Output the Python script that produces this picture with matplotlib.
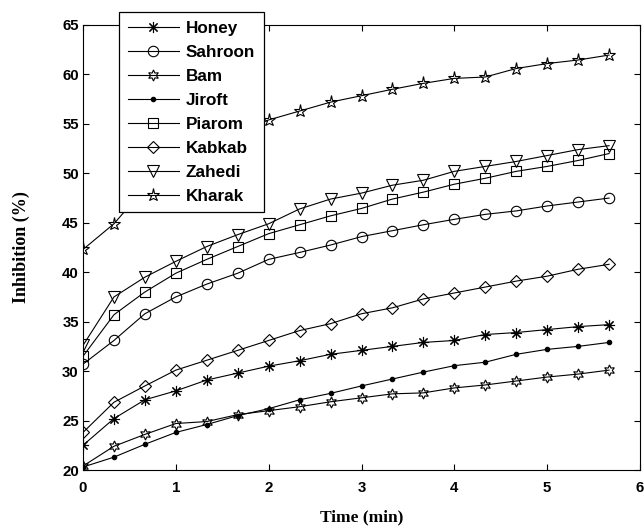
import matplotlib
matplotlib.use("Agg")
import matplotlib.pyplot as plt

time = [0, 1/3, 2/3, 1, 4/3, 5/3, 2, 7/3, 8/3, 3, 10/3, 11/3, 4, 13/3, 14/3, 5, 16/3, 17/3]

honey   = [22.5, 25.2, 27.1, 28.0, 29.1, 29.8, 30.5, 31.05, 31.7, 32.1, 32.5, 32.9, 33.1, 33.7, 33.9, 34.2, 34.5, 34.7]
sahroon = [30.7, 33.1, 35.8, 37.5, 38.8, 39.9, 41.3, 42.0, 42.75, 43.6, 44.2, 44.8, 45.35, 45.85, 46.2, 46.7, 47.1, 47.5]
bam     = [20.4, 22.4, 23.6, 24.7, 24.9, 25.6, 26.0, 26.4, 26.9, 27.3, 27.7, 27.8, 28.3, 28.6, 29.0, 29.4, 29.7, 30.1]
jiroft  = [20.3, 21.3, 22.6, 23.8, 24.6, 25.5, 26.2, 27.1, 27.75, 28.5, 29.2, 29.9, 30.55, 30.9, 31.7, 32.2, 32.5, 32.9]
piarom  = [31.5, 35.7, 38.0, 39.9, 41.3, 42.6, 43.9, 44.8, 45.7, 46.45, 47.4, 48.1, 48.9, 49.5, 50.2, 50.7, 51.3, 52.0]
kabkab  = [23.8, 26.85, 28.5, 30.1, 31.1, 32.1, 33.1, 34.1, 34.8, 35.8, 36.4, 37.3, 37.9, 38.5, 39.1, 39.6, 40.3, 40.8]
zahedi  = [32.6, 37.5, 39.5, 41.1, 42.6, 43.8, 44.9, 46.4, 47.4, 48.0, 48.8, 49.3, 50.2, 50.7, 51.2, 51.8, 52.4, 52.8]
kharak  = [42.3, 44.9, 48.5, 50.8, 52.6, 54.1, 55.4, 56.3, 57.2, 57.85, 58.5, 59.1, 59.6, 59.74, 60.6, 61.1, 61.46, 61.96]

names = ["Honey", "Sahroon", "Bam", "Jiroft", "Piarom", "Kabkab", "Zahedi", "Kharak"]
series = [honey, sahroon, bam, jiroft, piarom, kabkab, zahedi, kharak]

xticks = [0, 1, 2, 3, 4, 5, 6]
yticks = [20, 25, 30, 35, 40, 45, 50, 55, 60, 65]

styles = [
    dict(marker=(8, 2, 0), ms=8, mfc="none"),
    dict(marker="o", ms=7.5, mfc="none"),
    dict(marker=(6, 1, 0), ms=8, mfc="none"),
    dict(marker="o", ms=3.2, mfc="black"),
    dict(marker="s", ms=7.5, mfc="none"),
    dict(marker="D", ms=6.5, mfc="none"),
    dict(marker="v", ms=8.5, mfc="none"),
    dict(marker="*", ms=9.5, mfc="none"),
]

fig = plt.figure(figsize=(6.44, 5.30), dpi=100)
ax = fig.add_axes([83/644, 1-470/530, (640-83)/644, (470-25)/530])

for name, vals, st in zip(names, series, styles):
    ax.plot(time, vals, color="black", lw=0.8, mec="black", mew=0.8, label=name, **st)

ax.set_xlim(0, 6)
ax.set_ylim(20, 65)
ax.set_xticks(xticks)
ax.set_yticks(yticks)
ax.tick_params(direction="in", top=True, right=True, length=4, width=0.8,
               labelsize=10.8, pad=3)
ax.tick_params(axis="x", pad=8)
for lab in ax.get_xticklabels() + ax.get_yticklabels():
    lab.set_fontfamily("Liberation Sans")
    lab.set_fontweight("bold")
for sp in ax.spines.values():
    sp.set_linewidth(0.8)

ax.set_xlabel("Time (min)", fontfamily="Liberation Serif", fontweight="bold", fontsize=12.5)
ax.set_ylabel("Inhibition (%)", fontfamily="Liberation Serif", fontweight="bold", fontsize=13)
ax.xaxis.set_label_coords(0.5, -0.088)
ax.yaxis.set_label_coords(-0.095, 0.5)

leg = fig.legend(loc="upper left", bbox_to_anchor=(119/644, 1-12/530),
                 bbox_transform=fig.transFigure, frameon=True, fancybox=False,
                 edgecolor="black", framealpha=1, borderaxespad=0,
                 prop=dict(family="Liberation Sans", weight="bold", size=12.3),
                 handlelength=3.0, handletextpad=0.4, labelspacing=0.53, borderpad=0.5)
leg.get_frame().set_linewidth(0.9)

fig.savefig("out.png", dpi=100)
